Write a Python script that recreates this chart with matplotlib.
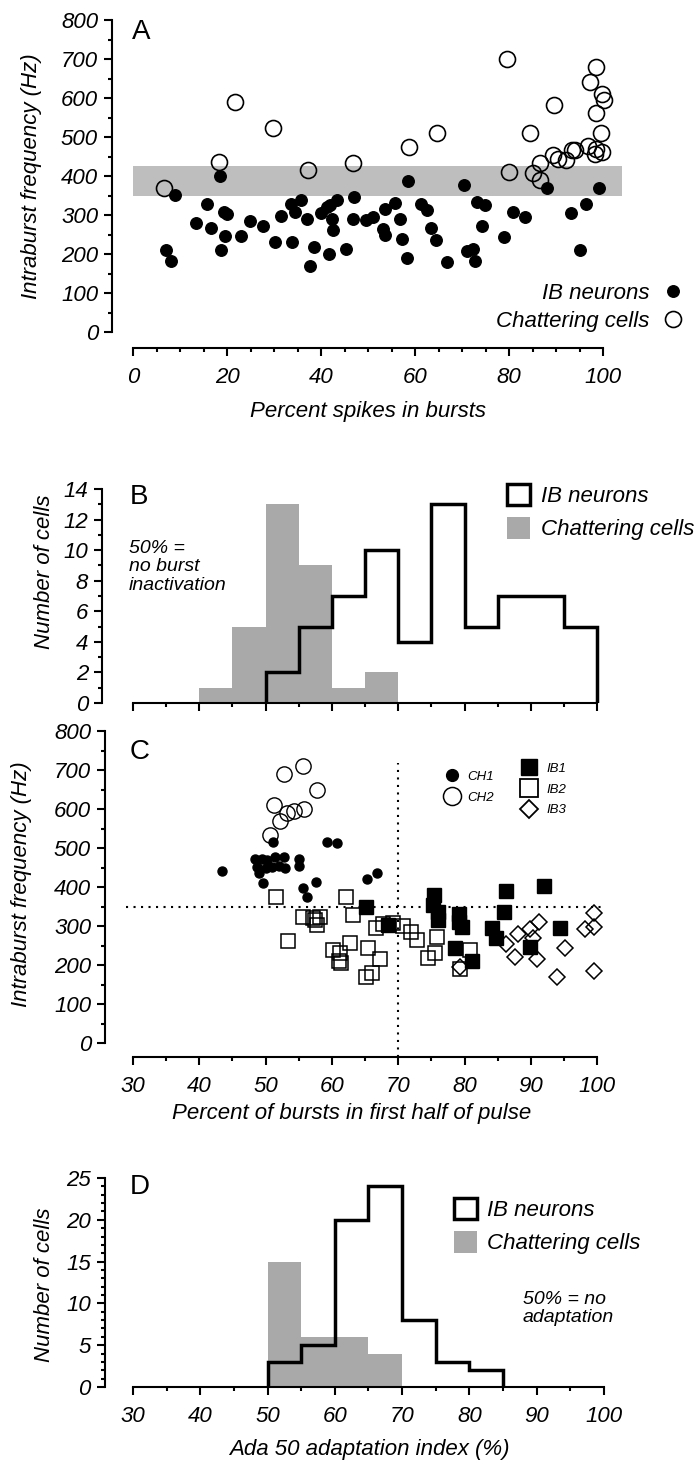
import matplotlib
matplotlib.use('Agg')
import matplotlib.pyplot as plt
from matplotlib.lines import Line2D
from matplotlib.patches import Patch
from matplotlib.ticker import MultipleLocator

plt.rcParams['font.family'] = ['Liberation Sans', 'DejaVu Sans']
plt.rcParams['font.style'] = 'italic'
plt.rcParams['axes.linewidth'] = 1.5

# ---- panel A: percent spikes in bursts vs intraburst frequency ----
a_ib_x = [7.0, 8.0, 8.9, 18.5, 15.7, 13.3, 16.5, 19.4, 20.1, 19.6, 18.7, 22.9, 24.8, 27.7,
          31.5, 30.3, 33.8, 33.7, 34.5, 35.7, 37.1, 38.6, 37.7, 40.1, 41.2, 42.0, 43.3, 42.4,
          42.6, 41.6, 45.3, 47.0, 46.9, 49.6, 51.1, 53.6, 55.7, 53.1, 53.6, 56.8, 57.2, 58.4,
          58.2, 61.2, 62.5, 63.5, 64.5, 66.7, 70.5, 73.1, 74.9, 74.2, 71.0, 72.4, 72.8, 79.0,
          80.8, 83.3, 88.0, 93.2, 96.3, 95.2, 99.2]
a_ib_y = [211, 182, 352, 400, 327, 279, 267, 307, 303, 245, 211, 247, 285, 273,
          297, 232, 232, 327, 308, 338, 291, 217, 168, 305, 320, 326, 338, 291,
          261, 201, 214, 347, 291, 286, 295, 316, 331, 265, 248, 291, 239, 386,
          191, 329, 312, 267, 237, 179, 376, 333, 325, 271, 208, 214, 182, 244,
          308, 295, 369, 306, 327, 211, 370]
a_ch_x = [6.5, 18.2, 21.7, 29.7, 37.3, 46.9, 58.8, 64.6, 79.6, 79.9, 84.5, 85.0, 86.6, 86.5,
          89.6, 89.4, 90.5, 92.1, 93.3, 94.0, 96.9, 98.6, 97.2, 99.7, 100.1, 98.6, 99.5,
          99.7, 98.3, 98.6]
a_ch_y = [370, 435, 591, 524, 416, 433, 474, 511, 701, 409, 510, 408, 434, 389,
          581, 453, 444, 440, 466, 466, 476, 679, 641, 609, 594, 562, 509,
          462, 457, 470]
band = (350, 425)

# ---- panel B: percent of bursts in first half (histogram) ----
b_ch_edges = [40, 45, 50, 55, 60, 65, 70]
b_ch_counts = [1, 5, 13, 9, 1, 2]
b_ib_edges = [50, 55, 60, 65, 70, 75, 80, 85, 90, 95, 100]
b_ib_counts = [2, 5, 7, 10, 4, 13, 5, 7, 7, 5]

# ---- panel C: percent of bursts in first half vs frequency ----
ch1_x = [43.4, 51.1, 59.3, 60.8, 48.4, 49.4, 50.2, 51.4, 52.7, 48.7, 50.0, 51.0, 52.0, 53.0,
         49.0, 49.6, 55.1, 55.0, 55.7, 56.2, 57.6, 65.3, 66.8]
ch1_y = [442, 516, 516, 512, 471, 471, 469, 476, 478, 452, 448, 452, 454, 450,
         435, 409, 471, 455, 397, 375, 412, 420, 437]
ch2_x = [52.8, 55.6, 57.8, 51.2, 52.1, 53.3, 54.3, 55.8, 50.6]
ch2_y = [690, 711, 650, 610, 570, 589, 596, 599, 533]
ib1_x = [65.1, 68.5, 75.4, 75.3, 76.0, 76.0, 79.1, 79.1, 79.6, 78.6, 81.1, 86.2, 86.0, 84.1,
         84.7, 92.0, 94.4, 89.8]
ib1_y = [350, 303, 379, 354, 337, 315, 332, 311, 298, 244, 209, 390, 337, 294,
         268, 403, 294, 245]
ib2_x = [51.5, 53.4, 55.7, 57.2, 57.7, 58.2, 57.4, 62.2, 63.2, 60.1, 61.2, 61.4, 62.7, 65.2,
         66.0, 65.5, 67.2, 66.7, 67.7, 69.2, 70.7, 71.9, 72.8, 74.5, 75.8, 75.5, 79.3, 80.8, 61.0]
ib2_y = [375, 262, 324, 320, 303, 324, 315, 374, 328, 238, 230, 206, 257, 170,
         179, 243, 215, 294, 305, 307, 300, 285, 264, 219, 273, 230, 189, 238, 211]
ib3_x = [86.2, 88.0, 87.6, 89.8, 91.2, 90.4, 90.9, 93.9, 95.1, 98.1, 99.5, 99.6, 99.5, 79.3]
ib3_y = [254, 279, 220, 292, 311, 268, 215, 170, 243, 292, 334, 297, 185, 196]
c_hline = 350
c_vline = 70

# ---- panel D: Ada 50 adaptation index (histogram) ----
d_ch_edges = [50, 55, 60, 65, 70]
d_ch_counts = [15, 6, 6, 4]
d_ib_edges = [50, 55, 60, 65, 70, 75, 80, 85]
d_ib_counts = [3, 5, 20, 24, 8, 3, 2]

W, H = 696, 1460
GRAY = '#a9a9a9'
fig = plt.figure(figsize=(W / 100, H / 100), dpi=100)


def make_axes(l, r, t, b, xlim, ylim):
    ax = fig.add_axes([l / W, 1 - b / H, (r - l) / W, (b - t) / H])
    ax.set_xlim(*xlim)
    ax.set_ylim(*ylim)
    ax.patch.set_alpha(0)
    for s in ['top', 'right']:
        ax.spines[s].set_visible(False)
    ax.tick_params(which='major', length=6, width=1.5, labelsize=16, pad=4)
    ax.tick_params(which='minor', length=3, width=1.5)
    ax.tick_params(axis='x', pad=8)
    return ax


def ftext(x, y, s, **kw):
    fig.text(x / W, 1 - y / H, s, **kw)


# panel A
axA = make_axes(112, 624.2, 20, 332, (-4.47, 104.5), (0, 800))
axA.fill_between([0, 104], band[0], band[1], color='#bebebe', lw=0, zorder=1)
axA.plot(a_ib_x, a_ib_y, 'o', ms=8.3, color='black', mec='black', label='IB neurons', zorder=3)
axA.plot(a_ch_x, a_ch_y, 'o', ms=11.5, mfc='none', mec='black', mew=1.2,
         label='Chattering cells', zorder=2, clip_on=False)
axA.spines['bottom'].set_position(('outward', 11.5))
axA.spines['bottom'].set_bounds(0, 100)
axA.spines['left'].set_bounds(0, 800)
axA.xaxis.set_major_locator(MultipleLocator(20))
axA.xaxis.set_minor_locator(MultipleLocator(5))
axA.yaxis.set_major_locator(MultipleLocator(100))
axA.yaxis.set_minor_locator(MultipleLocator(50))
axA.legend(loc='center right', bbox_to_anchor=(684 / W, 1 - 307.5 / H),
           bbox_transform=fig.transFigure, frameon=False, markerfirst=False,
           fontsize=16, handlelength=1.0, handletextpad=0.55, labelspacing=0.3,
           borderpad=0, borderaxespad=0)
ftext(141, 32, 'A', style='normal', fontsize=20, ha='center', va='center')
ftext(32, 176, 'Intraburst frequency (Hz)', rotation=90, fontsize=16, ha='center', va='center')
ftext(368, 412, 'Percent spikes in bursts', fontsize=16, ha='center', va='center')

# panel B
axB = make_axes(102, 610, 489, 703, (25.32, 101.94), (0, 14))
axB.bar(b_ch_edges[:-1], b_ch_counts, width=5, align='edge', color=GRAY, lw=0)
axB.stairs(b_ib_counts, b_ib_edges, baseline=0, color='black', lw=2.5)
axB.spines['bottom'].set_bounds(30, 100)
axB.spines['left'].set_bounds(0, 14)
axB.xaxis.set_major_locator(MultipleLocator(10))
axB.xaxis.set_minor_locator(MultipleLocator(5))
axB.yaxis.set_major_locator(MultipleLocator(2))
axB.yaxis.set_minor_locator(MultipleLocator(1))
axB.tick_params(axis='x', labelbottom=False)
handles_hist = [Patch(facecolor='white', edgecolor='black', lw=2.5, label='IB neurons'),
                Patch(facecolor=GRAY, edgecolor='none', label='Chattering cells')]
axB.legend(handles=handles_hist, loc='upper left', bbox_to_anchor=(507 / W, 1 - 484 / H),
           bbox_transform=fig.transFigure, frameon=False, fontsize=16,
           handlelength=1.05, handleheight=1.1, handletextpad=0.5, labelspacing=0.45,
           borderpad=0, borderaxespad=0)
ftext(139, 497, 'B', style='normal', fontsize=20, ha='center', va='center')
ftext(45, 572, 'Number of cells', rotation=90, fontsize=16, ha='center', va='center')
ftext(129, 567, '50% =\nno burst\ninactivation', fontsize=14, ha='left', va='center',
      linespacing=1.15)

# panel C
axC = make_axes(105, 610, 731, 1043, (25.78, 101.94), (0, 800))
axC.plot([29, 101], [c_hline, c_hline], color='black', lw=1.5, ls=(0, (1, 2.6)), clip_on=False)
axC.plot([c_vline, c_vline], [-35, 718], color='black', lw=1.5, ls=(0, (1, 2.6)), clip_on=False)
axC.plot(ib2_x, ib2_y, 's', ms=10.5, mfc='none', mec='black', mew=1.1, clip_on=False)
axC.plot(ib3_x, ib3_y, 'D', ms=8, mfc='none', mec='black', mew=1.1, clip_on=False)
axC.plot(ib1_x, ib1_y, 's', ms=9.5, color='black', clip_on=False)
axC.plot(ch2_x, ch2_y, 'o', ms=11, mfc='none', mec='black', mew=1.0, clip_on=False)
axC.plot(ch1_x, ch1_y, 'o', ms=6.5, color='black', clip_on=False)
axC.spines['bottom'].set_position(('outward', 10))
axC.spines['bottom'].set_bounds(30, 100)
axC.spines['left'].set_bounds(0, 800)
axC.xaxis.set_major_locator(MultipleLocator(10))
axC.xaxis.set_minor_locator(MultipleLocator(5))
axC.yaxis.set_major_locator(MultipleLocator(100))
axC.yaxis.set_minor_locator(MultipleLocator(50))
ch_handles = [Line2D([], [], ls='none', marker='o', ms=8.5, color='black', label='CH1'),
              Line2D([], [], ls='none', marker='o', ms=13, mfc='none', mec='black', mew=1.1,
                     label='CH2')]
ib_handles = [Line2D([], [], ls='none', marker='s', ms=11, color='black', label='IB1'),
              Line2D([], [], ls='none', marker='s', ms=12.5, mfc='none', mec='black', mew=1.3,
                     label='IB2'),
              Line2D([], [], ls='none', marker='D', ms=9, mfc='none', mec='black', mew=1.3,
                     label='IB3')]
legC1 = axC.legend(handles=ch_handles, loc='center left', bbox_to_anchor=(444 / W, 1 - 787 / H),
                   bbox_transform=fig.transFigure, frameon=False, fontsize=9.5,
                   handlelength=1.2, handletextpad=0.6, labelspacing=0.65,
                   borderpad=0, borderaxespad=0)
axC.add_artist(legC1)
axC.legend(handles=ib_handles, loc='center left', bbox_to_anchor=(520 / W, 1 - 789.5 / H),
           bbox_transform=fig.transFigure, frameon=False, fontsize=9.5,
           handlelength=1.4, handletextpad=0.6, labelspacing=0.65,
           borderpad=0, borderaxespad=0)
ftext(140, 752, 'C', style='normal', fontsize=20, ha='center', va='center')
ftext(22, 884, 'Intraburst frequency (Hz)', rotation=90, fontsize=16, ha='center', va='center')
ftext(352, 1113, 'Percent of bursts in first half of pulse', fontsize=16,
      ha='center', va='center')

# panel D
axD = make_axes(104.6, 612, 1178, 1387, (25.78, 101.2), (0, 25))
axD.bar(d_ch_edges[:-1], d_ch_counts, width=5, align='edge', color=GRAY, lw=0)
axD.stairs(d_ib_counts, d_ib_edges, baseline=0, color='black', lw=2.5)
axD.spines['bottom'].set_bounds(30, 100)
axD.spines['left'].set_bounds(0, 25)
axD.xaxis.set_major_locator(MultipleLocator(10))
axD.xaxis.set_minor_locator(MultipleLocator(5))
axD.yaxis.set_major_locator(MultipleLocator(5))
axD.yaxis.set_minor_locator(MultipleLocator(1))
handles_hist_d = [Patch(facecolor='white', edgecolor='black', lw=2.5, label='IB neurons'),
                  Patch(facecolor=GRAY, edgecolor='none', label='Chattering cells')]
axD.legend(handles=handles_hist_d, loc='upper left', bbox_to_anchor=(454 / W, 1 - 1198 / H),
           bbox_transform=fig.transFigure, frameon=False, fontsize=16,
           handlelength=1.05, handleheight=1.1, handletextpad=0.45, labelspacing=0.45,
           borderpad=0, borderaxespad=0)
ftext(140, 1187, 'D', style='normal', fontsize=20, ha='center', va='center')
ftext(44, 1285, 'Number of cells', rotation=90, fontsize=16, ha='center', va='center')
ftext(523, 1308.5, '50% = no\nadaptation', fontsize=14, ha='left', va='center', linespacing=1.15)
ftext(369, 1450, 'Ada 50 adaptation index (%)', fontsize=16, ha='center', va='center')

fig.savefig('out.png', dpi=100)
